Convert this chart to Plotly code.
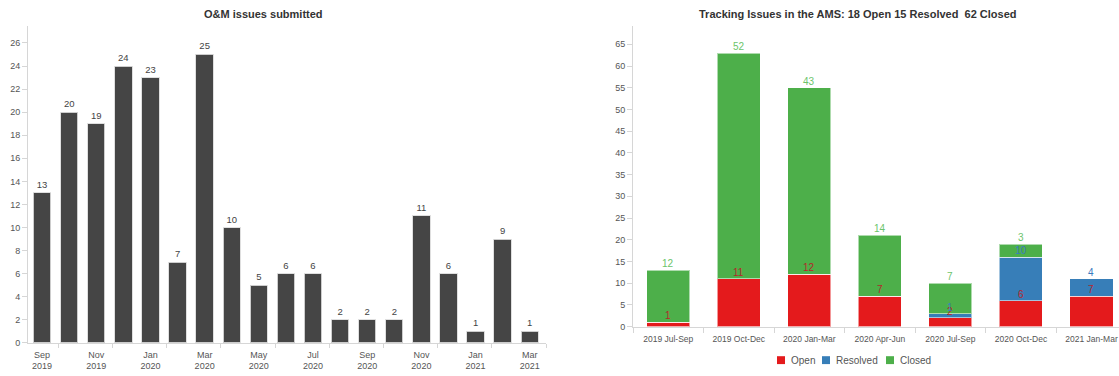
import plotly.graph_objects as go

# --- Monthly O&M issues ---
months = ["Sep 2019", "Oct 2019", "Nov 2019", "Dec 2019", "Jan 2020", "Feb 2020",
          "Mar 2020", "Apr 2020", "May 2020", "Jun 2020", "Jul 2020", "Aug 2020",
          "Sep 2020", "Oct 2020", "Nov 2020", "Dec 2020", "Jan 2021", "Feb 2021",
          "Mar 2021"]
submitted = [13, 20, 19, 24, 23, 7, 25, 10, 5, 6, 6, 2, 2, 2, 11, 6, 1, 9, 1]

# --- Quarterly AMS tracking ---
quarters = ["2019 Jul-Sep", "2019 Oct-Dec", "2020 Jan-Mar", "2020 Apr-Jun",
            "2020 Jul-Sep", "2020 Oct-Dec", "2021 Jan-Mar"]
open_issues = [1, 11, 12, 7, 2, 6, 7]
resolved_issues = [0, 0, 0, 0, 1, 10, 4]
closed_issues = [12, 52, 43, 14, 7, 3, 0]

W, H = 1119, 376
FONT = "Liberation Sans, Arial, Helvetica, sans-serif"
TICK_FONT = dict(family=FONT, size=9, color="#555")

def px_x(v):
    return v / W

def px_y(v):
    return 1 - v / H

fig = go.Figure()

idx = list(range(len(months)))
fig.add_trace(go.Bar(
    x=idx, y=submitted, text=[str(v) for v in submitted],
    textposition="outside", cliponaxis=False,
    textfont=dict(family=FONT, size=9.5, color="#444"),
    marker=dict(color="#454545", line=dict(color="rgba(220,220,220,0.9)", width=1)),
    width=0.64, showlegend=False, xaxis="x", yaxis="y",
))

series = [
    ("Open", open_issues, "#e41a1c", "#b5262a"),
    ("Resolved", resolved_issues, "#377eb8", "#3a7bbf"),
    ("Closed", closed_issues, "#4daf4a", "#6cc46a"),
]
for name, vals, color, _ in series:
    fig.add_trace(go.Bar(
        x=quarters, y=vals, name=name, showlegend=False,
        marker=dict(color=color, line=dict(color="rgba(255,255,255,0.55)", width=1)),
        xaxis="x2", yaxis="y2",
    ))

# segment labels sit just above the top of each stacked segment
annotations = []
base = [0] * len(quarters)
for name, vals, _, label_color in series:
    for i, v in enumerate(vals):
        top = base[i] + v
        if v:
            annotations.append(dict(
                x=quarters[i], y=top, xref="x2", yref="y2", text=str(v),
                showarrow=False, yanchor="bottom", yshift=-1,
                font=dict(family=FONT, size=10, color=label_color),
            ))
        base[i] = top

annotations += [
    dict(text="<b>O&M issues submitted</b>", x=px_x(263), y=px_y(14),
         xref="paper", yref="paper", showarrow=False,
         xanchor="center", yanchor="middle",
         font=dict(family=FONT, size=11, color="#333")),
    dict(text="<b>Tracking Issues in the AMS: 18 Open 15 Resolved  62 Closed</b>",
         x=px_x(857), y=px_y(14), xref="paper", yref="paper", showarrow=False,
         xanchor="center", yanchor="middle",
         font=dict(family=FONT, size=11, color="#333")),
]

# compact legend below the stacked chart: swatch + name for each series
shapes = []
legend_left = [777, 822, 886]
for (name, _, color, _), left in zip(series, legend_left):
    shapes.append(dict(type="rect", xref="paper", yref="paper",
                       x0=px_x(left), x1=px_x(left + 8),
                       y0=px_y(369), y1=px_y(361),
                       fillcolor=color, line=dict(width=0)))
    annotations.append(dict(text=name, x=px_x(left + 12), y=px_y(365),
                            xref="paper", yref="paper", showarrow=False,
                            xanchor="left", yanchor="middle",
                            font=dict(family=FONT, size=10, color="#555")))

axis_common = dict(showline=True, linecolor="#d6d6d6", linewidth=1,
                   tickcolor="#d6d6d6", tickfont=TICK_FONT, showgrid=False,
                   zeroline=False, fixedrange=True)

label_idx = idx[::2]
fig.update_layout(
    width=W, height=H,
    margin=dict(l=0, r=0, t=0, b=0),
    paper_bgcolor="white", plot_bgcolor="white",
    barmode="stack",
    bargap=0.39,
    font=dict(family=FONT),
    annotations=annotations,
    shapes=shapes,
    showlegend=False,
    xaxis=dict(
        domain=[px_x(28), px_x(546)], range=[-0.52, 18.6],
        tickmode="array", tickvals=label_idx,
        ticktext=[months[i].replace(" ", "<br>") for i in label_idx],
        ticks="", anchor="y", ticklabelstandoff=3,
        minor=dict(tickmode="array", tickvals=[i + 0.6 for i in label_idx],
                   ticks="outside", ticklen=4, tickcolor="#d6d6d6"),
        **axis_common,
    ),
    yaxis=dict(
        domain=[px_y(347.5), px_y(26)], range=[0, 27.5],
        tickmode="linear", tick0=0, dtick=2, ticks="outside", ticklen=5,
        anchor="x", **axis_common,
    ),
    xaxis2=dict(
        domain=[px_x(633), 1.0], range=[-0.5, 6.39], type="category",
        ticks="outside", ticklen=5, tickson="boundaries", anchor="y2",
        ticklabelstandoff=4,
        **{**axis_common, "tickfont": dict(family=FONT, size=8.5, color="#555")},
    ),
    yaxis2=dict(
        domain=[px_y(331), px_y(26)], range=[0, 69.3],
        tickmode="linear", tick0=0, dtick=5, ticks="outside", ticklen=5,
        anchor="x2", **axis_common,
    ),
)

fig.write_html("out.html")
